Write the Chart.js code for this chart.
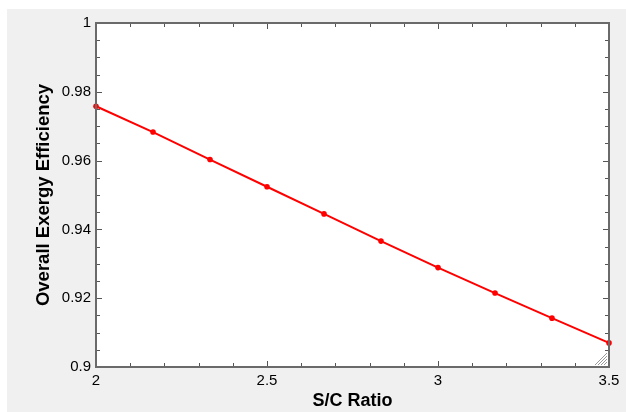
<!DOCTYPE html>
<html>
<head>
<meta charset="utf-8">
<script src="https://cdn.jsdelivr.net/npm/chart.js@4.4.1/dist/chart.umd.min.js"></script>
<style>
  html, body { margin: 0; background: #fff; }
  #wrap { position: absolute; left: 7px; top: 9px; width: 619px; height: 403px; background: #f0f0f0; }
</style>
</head>
<body>
<div id="wrap"><canvas id="chart" width="619" height="403"></canvas></div>
<script>
// S/C ratio vs overall exergy efficiency
const scRatio = [2, 2.1667, 2.3333, 2.5, 2.6667, 2.8333, 3, 3.1667, 3.3333, 3.5];
const exergyEff = [0.9758, 0.9683, 0.9603, 0.9524, 0.9445, 0.9366, 0.9289, 0.9215, 0.9142, 0.9070];

const xMajorTicks = [2, 2.5, 3, 3.5];
const yMajorTicks = [0.9, 0.92, 0.94, 0.96, 0.98, 1];
const xMinorStep = 0.1;
const yMinorStep = 0.005;

const FONT = '"Liberation Sans", Arial, sans-serif';

function stepsBetween(min, max, step) {
  const out = [];
  const n = Math.round((max - min) / step);
  for (let i = 0; i <= n; i++) out.push(min + i * step);
  return out;
}

// white plot area, inward ticks on all four sides, border, resize grip
const framePlugin = {
  id: 'frame',
  beforeDraw(chart) {
    const { ctx, chartArea: a } = chart;
    ctx.save();
    ctx.fillStyle = '#ffffff';
    ctx.fillRect(a.left, a.top, a.right - a.left, a.bottom - a.top);
    ctx.restore();
  },
  afterDraw(chart) {
    const { ctx, chartArea: a, scales } = chart;
    const xs = scales.x, ys = scales.y;
    ctx.save();
    ctx.strokeStyle = '#555555';
    ctx.lineWidth = 1;
    ctx.beginPath();
    stepsBetween(2, 3.5, xMinorStep).forEach((v) => {
      const major = xMajorTicks.some((m) => Math.abs(m - v) < 1e-6);
      const len = major ? 6 : 4;
      const px = Math.round(xs.getPixelForValue(v)) + 0.5;
      ctx.moveTo(px, a.bottom); ctx.lineTo(px, a.bottom - len);
      ctx.moveTo(px, a.top); ctx.lineTo(px, a.top + len);
    });
    stepsBetween(0.9, 1, yMinorStep).forEach((v) => {
      const major = yMajorTicks.some((m) => Math.abs(m - v) < 1e-6);
      const len = major ? 6 : 4;
      const py = Math.round(ys.getPixelForValue(v)) + 0.5;
      ctx.moveTo(a.left, py); ctx.lineTo(a.left + len, py);
      ctx.moveTo(a.right, py); ctx.lineTo(a.right - len, py);
    });
    ctx.stroke();

    ctx.strokeStyle = '#6a6a6a';
    ctx.lineWidth = 2;
    ctx.strokeRect(a.left, a.top, a.right - a.left, a.bottom - a.top);

    // little resize grip in the corner
    ctx.strokeStyle = '#999999';
    ctx.lineWidth = 1;
    ctx.beginPath();
    for (let i = 3; i <= 12; i += 3) {
      ctx.moveTo(a.right - 2 - i, a.bottom - 2);
      ctx.lineTo(a.right - 2, a.bottom - 2 - i);
    }
    ctx.stroke();
    ctx.restore();
  },
};

new Chart(document.getElementById('chart'), {
  type: 'line',
  data: {
    datasets: [{
      data: scRatio.map((x, i) => ({ x, y: exergyEff[i] })),
      borderColor: '#ff0000',
      backgroundColor: '#ff0000',
      borderWidth: 2,
      pointRadius: 2.8,
      pointBorderWidth: 0,
      tension: 0,
      clip: false,
    }],
  },
  options: {
    responsive: false,
    animation: false,
    layout: { padding: { left: 0, top: 14, right: 17, bottom: 0 } },
    plugins: { legend: { display: false }, tooltip: { enabled: false } },
    scales: {
      x: {
        type: 'linear', min: 2, max: 3.5,
        afterBuildTicks: (s) => { s.ticks = xMajorTicks.map((v) => ({ value: v })); },
        afterFit: (s) => { s.height = 45; },
        grid: { display: false, drawTicks: false },
        border: { display: false },
        ticks: {
          autoSkip: false, maxRotation: 0, padding: 5, color: '#000',
          font: { family: FONT, size: 15 },
          callback: (v) => String(v),
        },
        title: {
          display: true, text: 'S/C Ratio', color: '#000',
          font: { family: FONT, size: 18, weight: 'bold' },
          padding: { top: 0, bottom: 0 },
        },
      },
      y: {
        type: 'linear', min: 0.9, max: 1,
        afterBuildTicks: (s) => { s.ticks = yMajorTicks.map((v) => ({ value: v })); },
        afterFit: (s) => { s.width = 89; },
        grid: { display: false, drawTicks: false },
        border: { display: false },
        ticks: {
          autoSkip: false, padding: 5, color: '#000',
          font: { family: FONT, size: 15 },
          callback: (v) => String(v),
        },
        title: {
          display: true, text: 'Overall Exergy Efficiency', color: '#000',
          font: { family: FONT, size: 18.5, weight: 'bold' },
          padding: { top: 26, bottom: 0 },
        },
      },
    },
  },
  plugins: [framePlugin],
});
</script>
</body>
</html>
